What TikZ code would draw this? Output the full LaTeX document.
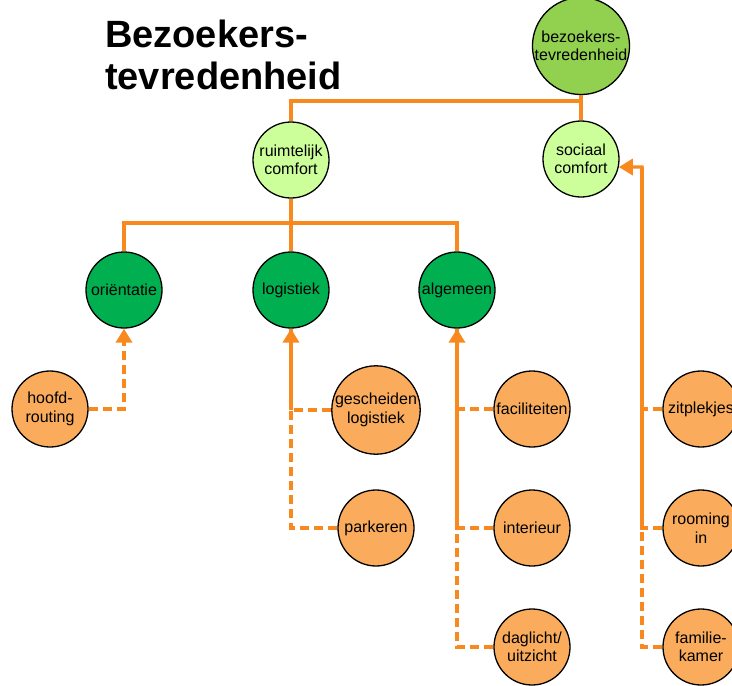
\documentclass[tikz,border=0pt]{standalone}
\usepackage{fontspec}
\setmainfont{Liberation Sans}
\usepackage{xcolor}
\usepackage{tikz}
\usetikzlibrary{arrows.meta}
\definecolor{topgreen}{RGB}{146,208,80}
\definecolor{lightgreen}{RGB}{204,255,153}
\definecolor{darkgreen}{RGB}{0,176,80}
\definecolor{leaforange}{RGB}{250,172,92}
\definecolor{linkorange}{RGB}{247,137,30}
\tikzset{
	main node/.style={circle,draw,line width=1.3pt,minimum size=76pt,inner sep=0pt,
		align=center,font=\fontsize{16}{18.5}\selectfont},
	top node/.style={main node,fill=topgreen},
	mid node/.style={main node,fill=lightgreen},
	low node/.style={main node,fill=darkgreen},
	leaf node/.style={main node,fill=leaforange},
	link/.style={draw=linkorange,line width=3.4pt},
	dash link/.style={link,dash pattern=on 9pt off 5pt},
	titletext/.style={anchor=north west,inner sep=0pt,align=left,
		font=\bfseries\fontsize{38}{42}\selectfont}
}

\begin{document}
\begin{tikzpicture}[x=1pt,y=-1pt,>={Triangle[length=14pt,width=16pt]}]
	\useasboundingbox (0,0) rectangle (732,686);
	\node [titletext] (0) at (105,20) {Bezoekers-\\tevredenheid};
	% top of the tree
	\node [top node] (1) at (581,46) {bezoekers-\\tevredenheid};
	\node [mid node] (2) at (291,160) {ruimtelijk\\comfort};
	\node [mid node] (3) at (581,159) {sociaal\\comfort};
	\node [low node] (4) at (124,290) {oriëntatie};
	\node [low node] (5) at (291,290) {logistiek};
	\node [low node] (6) at (457,290) {algemeen};
	% leaves
	\node [leaf node] (7) at (50,409) {hoofd-\\routing};
	\node [leaf node] (8) at (376,410) {gescheiden\\logistiek};
	\node [leaf node] (9) at (376,528) {parkeren};
	\node [leaf node] (10) at (532,409) {faciliteiten};
	\node [leaf node] (11) at (532,528) {interieur};
	\node [leaf node] (12) at (532,647) {daglicht/\\uitzicht};
	\node [leaf node] (13) at (701,409) {zitplekjes};
	\node [leaf node] (14) at (701,528) {rooming\\in};
	\node [leaf node] (15) at (701,647) {familie-\\kamer};
	% tree lines
	\coordinate (a) at (581,101);
	\coordinate (b) at (291,223);
	\coordinate (s) at (642,167);
	\draw [link] (1.south) -- (a) -| (2.north);
	\draw [link] (a) -- (3.north);
	\draw [link] (2.south) -- (5.north);
	\draw [link] (b) -| (4.north);
	\draw [link] (b) -| (6.north);
	% dashed links of the leaves
	\draw [dash link,->] (7.east) -| (4.south);
	\draw [dash link] (8.west) -| (5.south);
	\draw [dash link] (9.west) -| (5.south);
	\draw [dash link] (10.west) -| (6.south);
	\draw [dash link] (11.west) -| (6.south);
	\draw [dash link] (12.west) -| (6.south);
	\draw [dash link] (13.west) -| (s);
	\draw [dash link] (14.west) -| (s);
	\draw [dash link] (15.west) -| (s);
	% solid parts with arrows
	\draw [link,->] (8.west -| 5.south) -- (5.south);
	\draw [link,->] (11.west -| 6.south) -- (6.south);
	\draw [link,->] (14.west -| s) -- (s) -- (3.-12);
\end{tikzpicture}
\end{document}
